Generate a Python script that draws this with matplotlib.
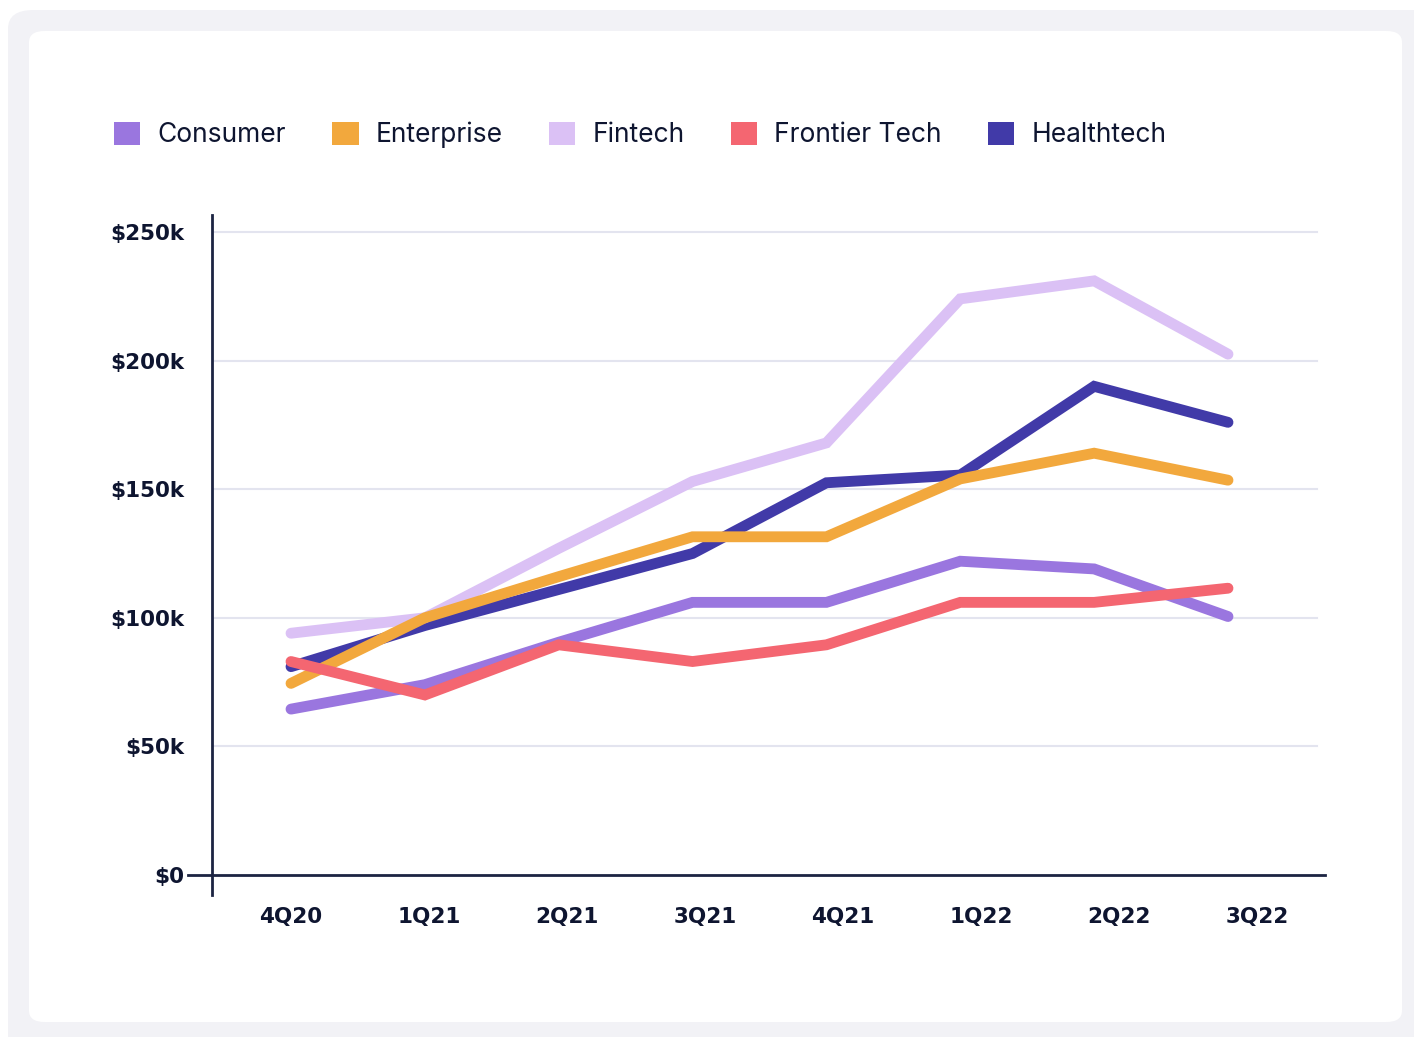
import matplotlib
matplotlib.use("Agg")
import matplotlib.pyplot as plt
from matplotlib.patches import FancyBboxPatch, Patch

# quarterly values, $k
quarters = ['4Q20', '1Q21', '2Q21', '3Q21', '4Q21', '1Q22', '2Q22', '3Q22']
consumer = [64.5, 74, 90.5, 106, 106, 122, 119, 100.5]
enterprise = [74.5, 100, 116, 131.5, 131.5, 154, 164, 153.5]
fintech = [94, 100, 127, 153, 168, 224, 231, 202.5]
frontier_tech = [83, 70, 89.5, 83, 89.5, 106, 106, 111.5]
healthtech = [81, 97, 111, 125, 152.5, 155.5, 190, 176]

series_names = ['Consumer', 'Enterprise', 'Fintech', 'Frontier Tech', 'Healthtech']
series_values = [consumer, enterprise, fintech, frontier_tech, healthtech]
colors = ['#9A76DF', '#F2A83D', '#DBC1F5', '#F46671', '#413AA8']
y_ticks = [0, 50, 100, 150, 200, 250]

TEXT = '#0E1530'
AXIS = '#1C2442'
GRID = '#E3E4EF'

W, H = 1414, 1037
fig = plt.figure(figsize=(W / 100, H / 100), dpi=100)
fig.patch.set_facecolor('white')

# outer grey frame and white card
fig.patches.append(FancyBboxPatch((8 / W, -0.1), 1.2, 1.1 - 10 / H, boxstyle='round,pad=0,rounding_size=0.018',
                                  transform=fig.transFigure, facecolor='#F2F2F6', edgecolor='none', zorder=-2))
fig.patches.append(FancyBboxPatch((29 / W, 15 / H), (1402 - 29) / W, (1022 - 31) / H,
                                  boxstyle='round,pad=0,rounding_size=0.011',
                                  transform=fig.transFigure, facecolor='white', edgecolor='none', zorder=-1))

ax = fig.add_axes([212 / W, (H - 895) / H, (1325 - 212) / W, (895 - 215) / H])
ax.set_facecolor('none')

x = list(range(len(quarters)))
step = (1228 - 291) / 7
ax.set_xlim((212 - 291) / step, (1325 - 291) / step)
ppk = (875 - 232) / 250
ax.set_ylim(-(895 - 875) / ppk, (875 - 215) / ppk)

# gridlines
for t in y_ticks[1:]:
    ax.axhline(t, xmin=0, xmax=(1317 - 212) / (1325 - 212), color=GRID, lw=1.5, zorder=0)
# baseline at zero, extending left of the spine
ax.axhline(0, xmin=-24 / (1325 - 212), xmax=1, color=AXIS, lw=2, clip_on=False, zorder=1)

draw_order = [4, 2, 1, 0, 3]
for i in draw_order:
    ax.plot(x, series_values[i], color=colors[i], lw=7.8, solid_capstyle='round',
            solid_joinstyle='miter', zorder=3 + draw_order.index(i))

for side in ['top', 'right', 'bottom']:
    ax.spines[side].set_visible(False)
ax.spines['left'].set_color(AXIS)
ax.spines['left'].set_linewidth(2)

ax.set_yticks(y_ticks)
ax.set_yticklabels([f'${t}k' if t else '$0' for t in y_ticks])
ax.tick_params(axis='y', length=0, pad=20, labelsize=15.5, labelcolor=TEXT)
for lbl in ax.get_yticklabels():
    lbl.set_fontweight('heavy')
    lbl.set_family('DejaVu Sans')

# quarter labels sit a little wider apart than the points
ax.set_xticks([])
label_step = (1257 - 291) / 7
k = label_step / step
sec = ax.secondary_xaxis('bottom', functions=(lambda v: v / k, lambda v: v * k))
sec.spines['bottom'].set_visible(False)
sec.set_xticks(x)
sec.set_xticklabels(quarters)
sec.tick_params(axis='x', length=0, pad=9, labelsize=15.5, labelcolor=TEXT)
for lbl in sec.get_xticklabels():
    lbl.set_fontweight('heavy')
    lbl.set_family('DejaVu Sans')

handles = [Patch(facecolor=c, edgecolor='none') for c in colors]
fig.legend(handles, series_names, loc='center left', bbox_to_anchor=(114 / W, 1 - 135 / H),
           ncol=5, frameon=False, borderpad=0, borderaxespad=0,
           handlelength=1.0, handleheight=1.0, handletextpad=0.65, columnspacing=1.75,
           prop={'family': 'Inter', 'size': 19}, labelcolor=TEXT)

fig.savefig('out.png', dpi=100, facecolor=fig.get_facecolor())
